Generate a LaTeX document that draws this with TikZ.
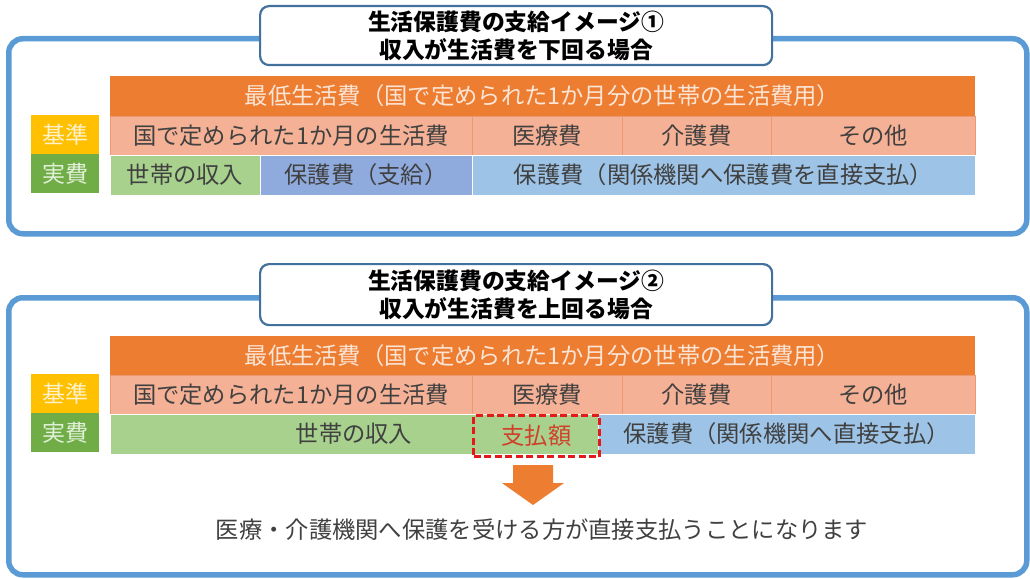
\documentclass[tikz,border=0pt]{standalone}
\usepackage{fontspec}
\setmainfont{Noto Sans CJK JP}
\definecolor{panelblue}{HTML}{5B9BD5}
\definecolor{titleblue}{HTML}{41719C}
\definecolor{rowA}{HTML}{ED7D31}
\definecolor{rowAtext}{HTML}{FBE5D6}
\definecolor{rowB}{HTML}{F5B196}
\definecolor{rowBline}{HTML}{E99A70}
\definecolor{greenC}{HTML}{A9D18E}
\definecolor{blueC}{HTML}{8FAADC}
\definecolor{lblueC}{HTML}{9DC3E6}
\definecolor{yellowL}{HTML}{FFC000}
\definecolor{yellowLtext}{HTML}{FFF2CC}
\definecolor{greenL}{HTML}{70AD47}
\definecolor{greenLtext}{HTML}{E2F0D9}
\definecolor{textgray}{HTML}{404040}
\definecolor{dashred}{HTML}{E31A1A}
\definecolor{paytext}{HTML}{D0402A}
\definecolor{arroworange}{HTML}{ED7D31}
\begin{document}
\begin{tikzpicture}[x=1pt,y=-1pt,
  panel/.style={draw=panelblue, line width=5.5pt, rounded corners=14pt, anchor=north west, inner sep=0pt},
  titlebox/.style={draw=titleblue, line width=2.2pt, fill=white, rounded corners=9pt, anchor=north west, inner sep=0pt, align=center, font=\bfseries\fontsize{22.8}{28}\selectfont},
  cell/.style={anchor=north west, inner sep=0pt, outer sep=0pt, font=\fontsize{23.3}{26}\selectfont, text=textgray, draw=white, line width=0.6pt},
  head/.style={cell, fill=rowA, text=rowAtext, draw=none},
  std/.style={cell, fill=rowB, draw=rowBline},
  lab/.style={anchor=north west, inner sep=0pt, font=\fontsize{23}{26}\selectfont, minimum width=68pt},
  payment/.style={draw=dashred, dash pattern=on 7pt off 3.5pt, line width=3pt, anchor=north west, inner sep=0pt, text=paytext, font=\fontsize{23.3}{26}\selectfont}
]
\useasboundingbox (0,0) rectangle (1030,578);
\fill[white] (0,0) rectangle (1030,578);

% ---------- Panel 1 ----------
\node[panel, minimum width=1018pt, minimum height=195pt] (p1) at (6,36) {};
\node[titlebox, minimum width=512pt, minimum height=59pt] (t1) at (259,5) {生活保護費の支給イメージ①\\収入が生活費を下回る場合};

\node[head, minimum width=865pt, minimum height=40pt] (a1) at (110,76) {最低生活費（国で定められた1か月分の世帯の生活費用）};
\node[std, minimum width=362pt, minimum height=39pt] (b11) at (110,116) {国で定められた1か月の生活費};
\node[std, minimum width=150pt, minimum height=39pt] (b12) at (472,116) {医療費};
\node[std, minimum width=149pt, minimum height=39pt] (b13) at (622,116) {介護費};
\node[std, minimum width=204pt, minimum height=39pt] (b14) at (771,116) {その他};
\node[cell, fill=greenC, minimum width=150pt, minimum height=40pt] (c11) at (110,155) {世帯の収入};
\node[cell, fill=blueC, minimum width=212pt, minimum height=40pt] (c12) at (260,155) {保護費（支給）};
\node[cell, fill=lblueC, minimum width=503pt, minimum height=40pt] (c13) at (472,155) {保護費（関係機関へ保護費を直接支払）};
\node[lab, fill=yellowL, text=yellowLtext, minimum height=39pt] (k1) at (31,115) {基準};
\node[lab, fill=greenL, text=greenLtext, minimum height=39pt] (j1) at (31,154) {実費};

% ---------- Panel 2 ----------
\node[panel, minimum width=1018pt, minimum height=277pt] (p2) at (6,295) {};
\node[titlebox, minimum width=512pt, minimum height=61pt] (t2) at (259,263) {生活保護費の支給イメージ②\\収入が生活費を上回る場合};

\node[head, minimum width=865pt, minimum height=39pt] (a2) at (110,336) {最低生活費（国で定められた1か月分の世帯の生活費用）};
\node[std, minimum width=362pt, minimum height=39pt] (b21) at (110,375) {国で定められた1か月の生活費};
\node[std, minimum width=150pt, minimum height=39pt] (b22) at (472,375) {医療費};
\node[std, minimum width=149pt, minimum height=39pt] (b23) at (622,375) {介護費};
\node[std, minimum width=204pt, minimum height=39pt] (b24) at (771,375) {その他};
\node[cell, fill=greenC, minimum width=488pt, minimum height=40pt] (c21) at (110,414) {世帯の収入};
\node[cell, fill=lblueC, minimum width=377pt, minimum height=40pt] (c23) at (598,414) {保護費（関係機関へ直接支払）};
\node[payment, minimum width=126pt, minimum height=41pt] (pay) at (472,414) {支払額};
\node[lab, fill=yellowL, text=yellowLtext, minimum height=39pt] (k2) at (31,374) {基準};
\node[lab, fill=greenL, text=greenLtext, minimum height=39pt] (j2) at (31,413) {実費};

\fill[arroworange] (513,465) -- (553,465) -- (553,483) -- (564,483) -- (533,505) -- (502,483) -- (513,483) -- cycle;

\node[font=\fontsize{23.3}{26}\selectfont, text=textgray, inner sep=0pt] (note) at (542,530) {医療・介護機関へ保護を受ける方が直接支払うことになります};
\end{tikzpicture}
\end{document}
